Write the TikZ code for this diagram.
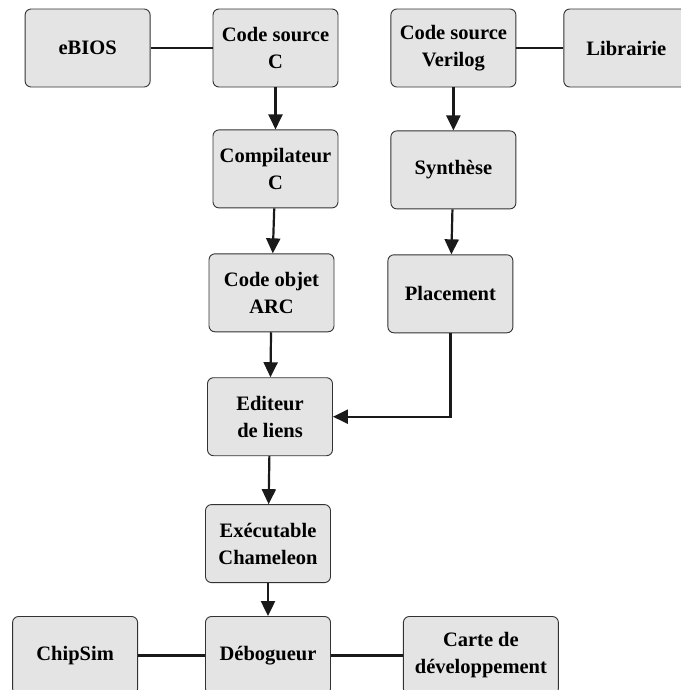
\documentclass[tikz,border=0pt]{standalone}
\usepackage{fontspec}
\setmainfont{Liberation Serif}
\usepackage{tikz}
\usetikzlibrary{arrows.meta, positioning}
\usepackage{xcolor}
\definecolor{boxgray}{RGB}{228,228,228}
\definecolor{edgegray}{RGB}{50,50,50}
\definecolor{linkdark}{RGB}{26,26,26}

\begin{document}
\begin{tikzpicture}[
    block/.style={rectangle, draw=edgegray, line width=0.9bp, fill=boxgray, minimum width=125bp, minimum height=78bp, inner sep=1bp, align=center, rounded corners=6pt, font=\fontsize{20.5bp}{27bp}\selectfont\bfseries},
    arr/.style={-{Triangle[length=15bp, width=14bp]}, line width=2.2bp, color=linkdark},
    link/.style={line width=2.2bp, color=linkdark}
]
    \useasboundingbox (0bp,0bp) rectangle (681bp,-690bp);

    \node (srcc) [block] at (275.5bp,-48bp) {Code source\\C};
    \node (ebios) [block, left=62bp of srcc] {eBIOS};
    \node (srcv) [block, right=52bp of srcc] {Code source\\Verilog};
    \node (lib) [block, right=47bp of srcv] {Librairie};
    \node (comp) [block, below=42bp of srcc] {Compilateur\\C};
    \node (obj) [block, below=45bp of comp, xshift=-4bp] {Code objet\\ARC};
    \node (synth) [block, below=43bp of srcv] {Synthèse};
    \node (place) [block, below=45bp of synth, xshift=-3bp] {Placement};
    \node (edit) [block, below=45bp of obj, xshift=-1.5bp] {Editeur\\de liens};
    \node (exe) [block, below=48bp of edit, xshift=-2bp] {Exécutable\\Chameleon};
    \node (debug) [block, below=33bp of exe] {Débogueur};
    \node (chip) [block, left=67bp of debug] {ChipSim};
    \node (carte) [block, minimum width=155bp, right=72bp of debug] {Carte de\\développement};

    \draw[link] (ebios) -- (srcc);
    \draw[link] (srcv) -- (lib);
    \draw[arr] (srcc) -- (comp);
    \draw[arr] (comp) -- (obj);
    \draw[arr] (obj) -- (edit);
    \draw[arr] (srcv) -- (synth);
    \draw[arr] (synth) -- (place);
    \draw[arr] (place) |- (edit);
    \draw[arr] (edit) -- (exe);
    \draw[arr] (exe) -- (debug);
    \draw[link] (chip) -- (debug);
    \draw[link] (debug) -- (carte);
\end{tikzpicture}
\end{document}
